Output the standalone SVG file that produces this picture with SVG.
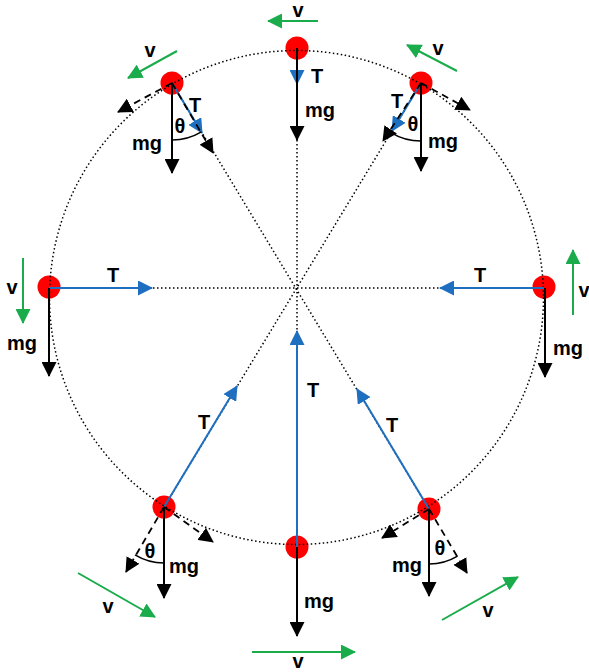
<svg xmlns="http://www.w3.org/2000/svg" width="589" height="672" viewBox="0 0 589 672">
<style>
.ball{fill:#ff0000}
.dot{fill:none;stroke:#000;stroke-width:1.5;stroke-dasharray:1.5 2.5}
.mg{fill:none;stroke:#000;stroke-width:2;marker-end:url(#ak)}
.dash{fill:none;stroke:#000;stroke-width:1.8;stroke-dasharray:7 5;marker-end:url(#ak)}
.t{fill:none;stroke:#1f6fc0;stroke-width:2;marker-end:url(#ab)}
.v{fill:none;stroke:#1aab4b;stroke-width:2;marker-end:url(#ag)}
.arc{fill:none;stroke:#000;stroke-width:1.5}
text{font-family:"Liberation Sans",Arial,sans-serif;font-weight:bold;font-size:20px;fill:#000;text-anchor:middle}
</style>
<defs>
<marker id="ak" viewBox="0 0 15 15" refX="14" refY="7.5" markerWidth="15" markerHeight="15" markerUnits="userSpaceOnUse" orient="auto"><path d="M0,0L15,7.5L0,15z" fill="#000"/></marker>
<marker id="ab" viewBox="0 0 15 15" refX="14" refY="7.5" markerWidth="15" markerHeight="15" markerUnits="userSpaceOnUse" orient="auto"><path d="M0,0L15,7.5L0,15z" fill="#1f6fc0"/></marker>
<marker id="ag" viewBox="0 0 15 15" refX="14" refY="7.5" markerWidth="15" markerHeight="15" markerUnits="userSpaceOnUse" orient="auto"><path d="M0,0L15,7.5L0,15z" fill="#1aab4b"/></marker>
</defs>

<g id="balls">
<g id="ball-top"><circle class="ball" cx="297" cy="48" r="11.5"/></g>
<g id="ball-topleft"><circle class="ball" cx="172" cy="83" r="11.5"/></g>
<g id="ball-topright"><circle class="ball" cx="421" cy="83" r="11.5"/></g>
<g id="ball-left"><circle class="ball" cx="49" cy="287" r="11.5"/></g>
<g id="ball-right"><circle class="ball" cx="544" cy="287" r="11.5"/></g>
<g id="ball-bottomleft"><circle class="ball" cx="164" cy="507" r="11.5"/></g>
<g id="ball-bottomright"><circle class="ball" cx="429" cy="509" r="11.5"/></g>
<g id="ball-bottom"><circle class="ball" cx="297" cy="547" r="11.5"/></g>
</g>

<g id="guides">
<circle class="dot" cx="296.5" cy="297.5" r="247"/>
<path class="dot" d="M49,288L544,288M297,48L297,547M172,83L429,509M421,83L164,507"/>
</g>

<g id="connectors">
<path class="t" d="M297,48L297,84"/>
<path class="t" d="M172,83L202,133"/>
<path class="t" d="M421,83L392,131"/>
<path class="t" d="M49,288L152,288"/>
<path class="t" d="M544,288L440,288"/>
<path class="t" d="M164,507L237,386"/>
<path class="t" d="M429,509L357,389"/>
<path class="t" d="M297,547L297,331"/>

<path class="mg" d="M297,48L297,140"/>
<path class="mg" d="M172,83L172,173"/>
<path class="mg" d="M421,83L421,171"/>
<path class="mg" d="M49,288L49,376"/>
<path class="mg" d="M545,288L545,377"/>
<path class="mg" d="M164,507L164,598"/>
<path class="mg" d="M429,509L429,596"/>
<path class="mg" d="M297,547L297,636"/>

<path class="dash" d="M172,83L118,112"/>
<path class="dash" d="M172,83L213,153"/>
<path class="dash" d="M421,83L470,110"/>
<path class="dash" d="M421,83L383,141"/>
<path class="dash" d="M164,507L213,542"/>
<path class="dash" d="M164,507L126,572"/>
<path class="dash" d="M429,509L382,538"/>
<path class="dash" d="M429,509L467,573"/>

<path class="arc" d="M172,140A57,57 0 0 0 201.4,131.9"/>
<path class="arc" d="M421,141A58,58 0 0 1 390.9,132.6"/>
<path class="arc" d="M164,563A56,56 0 0 1 135,554.9"/>
<path class="arc" d="M429,564A55,55 0 0 0 457.5,556.1"/>

<path class="v" d="M318,21L268,21"/>
<path class="v" d="M177,51L128,78"/>
<path class="v" d="M457,71L407,45"/>
<path class="v" d="M23,258L23,323"/>
<path class="v" d="M573,315L573,250"/>
<path class="v" d="M78,573L155,617"/>
<path class="v" d="M442,620L518,577"/>
<path class="v" d="M252,652L355,652"/>
</g>

<g id="labels">
<text x="298" y="17">v</text>
<text x="317" y="83">T</text>
<text x="320" y="117">mg</text>

<text x="150" y="57">v</text>
<text x="195" y="112">T</text>
<text x="180" y="133">θ</text>
<text x="147" y="150">mg</text>

<text x="438" y="55">v</text>
<text x="397" y="108">T</text>
<text x="413" y="131">θ</text>
<text x="443" y="148">mg</text>

<text x="113" y="282">T</text>
<text x="12" y="294">v</text>
<text x="22" y="350">mg</text>

<text x="480" y="282">T</text>
<text x="584" y="297">v</text>
<text x="568" y="355">mg</text>

<text x="204" y="429">T</text>
<text x="150" y="558">θ</text>
<text x="184" y="573">mg</text>
<text x="108" y="613">v</text>

<text x="313" y="397">T</text>
<text x="319" y="608">mg</text>
<text x="298" y="668">v</text>

<text x="392" y="432">T</text>
<text x="440" y="555">θ</text>
<text x="407" y="572">mg</text>
<text x="488" y="617">v</text>
</g>
</svg>
